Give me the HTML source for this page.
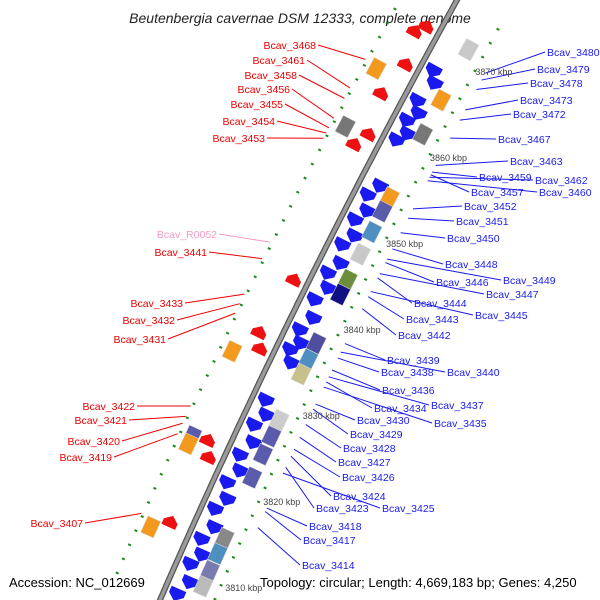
<!DOCTYPE html>
<html><head><meta charset="utf-8"><style>
html,body{margin:0;padding:0;background:#fff;}
svg{display:block;font-family:"Liberation Sans",sans-serif;}
</style></head><body>
<svg id="map" width="600" height="600" viewBox="0 0 600 600">
<text x="300" y="23" text-anchor="middle" font-size="14" font-style="italic" fill="#222">Beutenbergia cavernae DSM 12333, complete genome</text>
<g id="dots"></g><g id="leaders"></g><g id="backbone"></g><g id="genes"></g><g id="ticks"></g><g id="labels"></g>
<text x="9" y="587" font-size="13" fill="#000">Accession: NC_012669</text>
<text x="260" y="587" font-size="13" fill="#000">Topology: circular; Length: 4,669,183 bp; Genes: 4,250</text>
</svg>
<script>
// ---- data ----
const tickKbp = [3870, 3860, 3850, 3840, 3830, 3820, 3810];
const blueGenes = [3870.8,3869.7,3867.3,3866.2,3865,3863.8,3862.7,3857.7,3856.3,3854.8,3853.4,3851.9,3850.5,3848.7,3847.2,3845.8,3844.1,3842.3,3840.6,3839.4,3838.3,3837.1,3832.4,3831,3829.5,3827.8,3826,3824.5,3822.8,3821.2,3819.7,3817.9,3816.2,3814.7,3813.3,3811.5,3809.8];
const redGenes = [3874.6,3873.6,3870.2,3866.4,3862.1,3860.5,3845.2,3838.7,3837.2,3826.2,3824.6,3816.7];
const boxKbp = [3874.5,3868.6,3864.6,3857.2,3855.6,3853.2,3850.6,3847.6,3845.9,3840.2,3838.3,3836.6,3831.2,3829.3,3827.2,3824.5,3817.4,3815.6,3813.6,3811.8];
const boxColors = ["#c8c8c8","#f39a1e","#777777","#f39a1e","#5b5bab","#4f8fc0","#c8c8c8","#6b8e3a","#101080","#4f4f9f","#4f8fc0","#c7c08a","#cccccc","#5b5bab","#5b5bab","#5b5bab","#888888","#4f8fc0","#7a7ab0","#bbbbbb"];
const leftBoxKbp = [3868.3,3861.6,3835.6,3825.8,3824.9,3815.3];
const leftBoxColors = ["#f39a1e","#777777","#f39a1e","#5b5bab","#f39a1e","#f39a1e"];
const leftNames = ["Bcav_3468","Bcav_3461","Bcav_3458","Bcav_3456","Bcav_3455","Bcav_3454","Bcav_3453","Bcav_R0052","Bcav_3441","Bcav_3433","Bcav_3432","Bcav_3431","Bcav_3422","Bcav_3421","Bcav_3420","Bcav_3419","Bcav_3407"];
const leftLabelY = [45,60,75,89,104,121,138,234,252,303,320,339,406,420,441,457,523];
const leftTargetKbp = [3868.6,3865.3,3864.1,3861.8,3860.7,3860.1,3859.5,3847.5,3845.6,3841.5,3840.4,3839.3,3828.6,3827.4,3826.6,3825.4,3816.2];
const rightNames = ["Bcav_3480","Bcav_3479","Bcav_3478","Bcav_3473","Bcav_3472","Bcav_3467","Bcav_3463","Bcav_3459","Bcav_3462","Bcav_3457","Bcav_3460","Bcav_3452","Bcav_3451","Bcav_3450","Bcav_3448","Bcav_3449","Bcav_3446","Bcav_3447","Bcav_3444","Bcav_3445","Bcav_3443","Bcav_3442","Bcav_3439","Bcav_3440","Bcav_3438","Bcav_3436","Bcav_3437","Bcav_3434","Bcav_3435","Bcav_3430","Bcav_3429","Bcav_3428","Bcav_3427","Bcav_3426","Bcav_3424","Bcav_3423","Bcav_3425","Bcav_3418","Bcav_3417","Bcav_3414"];
const rightLabelX = [547,537,530,520,513,498,510,479,535,471,539,464,456,447,445,503,436,486,414,475,406,398,387,447,381,382,431,374,434,357,350,343,338,342,333,316,382,309,303,302];
const rightLabelY = [52,69,83,100,114,139,161,177,180,192,192,206,221,238,264,280,282,294,303,315,319,335,360,372,372,390,405,408,423,420,434,448,462,477,496,508,508,526,540,565];
const rightTargetKbp = [3873.2,3872.4,3871.3,3868.9,3867.7,3865.6,3862.4,3861.6,3861.0,3861.3,3860.6,3857.3,3856.2,3854.5,3852.6,3851.4,3851.0,3849.7,3849.2,3847.6,3847.0,3845.6,3841.5,3840.5,3839.8,3838.4,3837.6,3837.0,3836.4,3834.4,3833.8,3832.0,3830.5,3829.1,3828.3,3827.0,3826.3,3822.2,3821.8,3819.9];
const leftEdges=[316,305,297,290,283,275,265,217,207,183,175,166,135,127,120,112,83];

// ---- geometry ----
const yOf = k => 72 + (3870 - k) * 8.6;
const bx = y => 457 - 0.555*y + 0.0001*y*y;
const ang = y => Math.atan(0.555 - 0.0002*y) * 180 / Math.PI;
const NS = "http://www.w3.org/2000/svg";
function mk(tag, parent, attrs){ const e=document.createElementNS(NS,tag); for(const k in attrs) e.setAttribute(k,attrs[k]); document.getElementById(parent).appendChild(e); return e; }
function place(y, off){ const a=ang(y)*Math.PI/180; return [bx(y)+off*Math.cos(a), y+off*Math.sin(a)]; }

// backbone
let d=""; for(let y=-5;y<=605;y+=5){ d+=(y===-5?"M":"L")+bx(y).toFixed(1)+","+y; }
const bb1 = mk("path","backbone",{d:d,stroke:"#555",["stroke-width"]:6,fill:"none"});


const bb2 = mk("path","backbone",{d:d,stroke:"#9a9a9a",["stroke-width"]:3.5,fill:"none"});



// green dotted tracks
for(let y=5;y<600;y+=14){
  for(const off of [-50,50]){
    const [x,yy]=place(y,off);
    const dt=mk("rect","dots",{x:x-1.5,y:yy-1,width:3,height:2,fill:"#1a8a1a",transform:`rotate(${ang(y)} ${x} ${yy})`});
    
    
  }
}

function arrow(k, off, color, down, w, L){
  const y=yOf(k); const [x,yy]=place(y,off);
  const pts = down ? `${-w/2},${-L/2} ${w/2},${-L/2} ${w/2},${0} 0,${L/2} ${-w/2},${0}`
                   : `${-w/2},${L/2} ${w/2},${L/2} ${w/2},${0} 0,${-L/2} ${-w/2},${0}`;
  return mk("polygon","genes",{points:pts,fill:color,transform:`translate(${x} ${yy}) rotate(${ang(y)})`});
}
blueGenes.forEach((k,i)=>{
  const p=arrow(k, (i%2?20:13), "#1a1aee", true, 16, 13);
  
  
});
redGenes.forEach((k,i)=>{
  const p=arrow(k, (i%2?-22:-14), "#ee1111", false, 15, 12);
  
  
});
function box(k, off, color){
  const y=yOf(k); const [x,yy]=place(y,off);
  return mk("rect","genes",{x:x-7,y:yy-9,width:14,height:18,fill:color,stroke:"#ddd",["stroke-width"]:0.5,transform:`rotate(${ang(y)} ${x} ${yy})`});
}
boxKbp.forEach((k,i)=>{
  const b=box(k,34,boxColors[i]);
  
  
});
leftBoxKbp.forEach((k,i)=>{
  const b=box(k,-38,leftBoxColors[i]);
  
  
});

// ticks
tickKbp.forEach(k=>{
  const y=yOf(k); const [x,yy]=place(y,60);
  const t=mk("text","ticks",{x:x+5,y:y+3,["font-size"]:9,fill:"#444"}); t.textContent=k+" kbp";
  
  
});

// left labels
leftNames.forEach((n,i)=>{
  const ty=yOf(leftTargetKbp[i]); const [tx,tyy]=place(ty,-52);
  const ly=leftLabelY[i];
  const col = n.indexOf("R0")>=0 ? "#f49ac8" : "#ee0000";
  const l=mk("line","leaders",{x1:leftEdges[i]+2,y1:ly,x2:tx,y2:tyy,stroke:col,["stroke-width"]:1});
  
  
  const t=mk("text","labels",{x:leftEdges[i],y:ly+4,["font-size"]:10.5,fill:col,["text-anchor"]:"end"});
  t.textContent=n;
  
  
});

// right labels
rightNames.forEach((n,i)=>{
  const ty=yOf(rightTargetKbp[i]); const [tx,tyy]=place(ty,60);
  const lx=rightLabelX[i], ly=rightLabelY[i];
  const l=mk("line","leaders",{x1:tx,y1:tyy,x2:lx-2,y2:ly,stroke:"#1a1aee",["stroke-width"]:1});
  
  
  const t=mk("text","labels",{x:lx,y:ly+4,["font-size"]:10.5,fill:"#1a1aee"});
  t.textContent=n;
  
  
});
</script>
</body></html>
